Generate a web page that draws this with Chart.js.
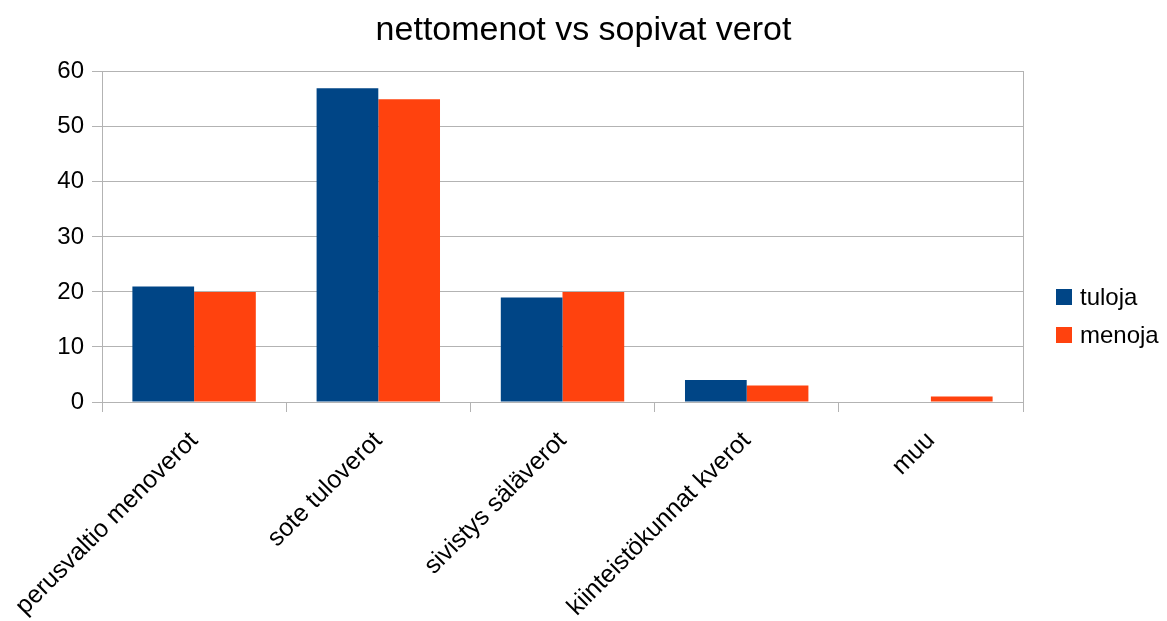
<!DOCTYPE html>
<html>
<head>
<meta charset="utf-8">
<script src="https://cdn.jsdelivr.net/npm/chart.js@4"></script>
<style>
  html, body { margin: 0; padding: 0; background: #fff; }
  #wrap { width: 1167px; height: 621px; }
</style>
</head>
<body>
<div id="wrap"><canvas id="chart" width="1167" height="621"></canvas></div>
<script>
// Chart data
const categories = ["perusvaltio menoverot", "sote tuloverot", "sivistys säläverot", "kiinteistökunnat kverot", "muu"];
const tuloja = [21, 57, 19, 4, 0];
const menoja = [20, 55, 20, 3, 1];
const yTicks = [0, 10, 20, 30, 40, 50, 60];

const FONT = "'Liberation Sans', Arial, sans-serif";
const GRID = "#b3b3b3";

// Legend drawn at the right, LibreOffice style
const sideLegend = {
  id: "sideLegend",
  afterDraw(chart) {
    const c = chart.ctx;
    const items = chart.data.datasets;
    c.save();
    c.font = "24px " + FONT;
    c.textBaseline = "middle";
    items.forEach((ds, i) => {
      const y = 297 + i * 38;
      c.fillStyle = ds.backgroundColor;
      c.fillRect(1056, y - 8, 16, 16);
      c.fillStyle = "#000";
      c.fillText(ds.label, 1080, y + 1);
    });
    c.restore();
  }
};

const ctx = document.getElementById("chart").getContext("2d");
const chart = new Chart(ctx, {
  type: "bar",
  data: {
    labels: categories,
    datasets: [
      { label: "tuloja", data: tuloja, backgroundColor: "#004586" },
      { label: "menoja", data: menoja, backgroundColor: "#ff420e" },
    ],
  },
  options: {
    responsive: false,
    animation: false,
    layout: { padding: 0 },
    datasets: { bar: { categoryPercentage: 0.67, barPercentage: 1.0 } },
    plugins: {
      legend: { display: false },
      tooltip: { enabled: false },
      title: {
        display: true,
        text: "nettomenot vs sopivat verot",
        color: "#000",
        font: { family: FONT, size: 34, weight: "normal" },
        padding: { top: 10, bottom: 21 },
      },
    },
    scales: {
      x: {
        grid: { display: true, drawOnChartArea: false, drawTicks: true, tickLength: 10, color: GRID, offset: true },
        border: { display: true, color: GRID, width: 1 },
        ticks: {
          color: "#000",
          font: { family: FONT, size: 25 },
          minRotation: 45,
          maxRotation: 45,
          autoSkip: false,
          padding: 14,
        },
        afterFit(scale) {
          scale.height = 219;
          scale.paddingLeft = 0;
          scale.paddingRight = 0;
        },
      },
      y: {
        min: 0,
        max: 60,
        afterBuildTicks(scale) { scale.ticks = yTicks.map(v => ({ value: v })); },
        grid: { color: GRID, tickLength: 10, drawTicks: true },
        border: { display: true, color: GRID, width: 1 },
        ticks: { color: "#000", font: { family: FONT, size: 24 }, padding: 8 },
        afterFit(scale) { scale.width = 102; },
      },
      y2: {
        position: "right",
        display: true,
        grid: { drawOnChartArea: false, drawTicks: false },
        border: { display: true, color: GRID, width: 1 },
        ticks: { display: false },
        afterFit(scale) { scale.width = 144; },
      },
    },
  },
  plugins: [sideLegend],
});
</script>
</body>
</html>
